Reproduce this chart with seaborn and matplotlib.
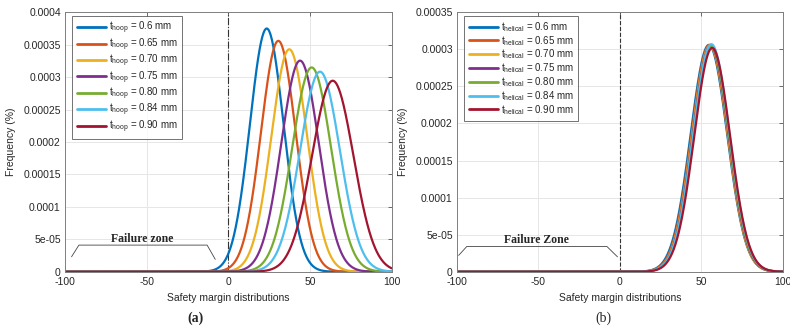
#!/usr/bin/env python3
"""
Safety margin distributions for hoop and helical layer thickness.
"""

import numpy as np
import pandas as pd
import matplotlib
matplotlib.use("Agg")
import matplotlib.pyplot as plt
from matplotlib.ticker import FuncFormatter
import seaborn as sns

# thickness values shown in the legends
thickness = ['0.6', '0.65', '0.70', '0.75', '0.80', '0.84', '0.90']

# (a) hoop layer: peak position, peak height and spread
hoop_mean = [23.5, 30.6, 37.3, 43.9, 51.0, 56.1, 63.9]
hoop_peak = [0.000375, 0.000356, 0.000343, 0.0003255, 0.000315, 0.0003085, 0.0002945]
hoop_std = [10.3, 10.6, 11.0, 11.5, 11.9, 12.2, 12.7]

# (b) helical layer
helical_mean = [54.6, 55.0, 55.3, 55.6, 55.9, 56.1, 56.6]
helical_peak = [0.000306, 0.000306, 0.000305, 0.000305, 0.000305, 0.000307, 0.000302]
helical_std = [11.2, 11.1, 11.0, 11.0, 11.0, 11.1, 11.0]

colors = ['#0072BD', '#D95319', '#EDB120', '#7E2F8E', '#77AC30', '#4DBEEE', '#A2142F']


def build_frame(name, means, peaks, stds):
    x = np.linspace(-100, 100, 801)
    rows = []
    for t, m, p, s in zip(thickness, means, peaks, stds):
        label = r'$\mathregular{t_{%s}}$ = %s mm' % (name, t)
        y = p * np.exp(-0.5 * ((x - m) / s) ** 2)
        rows.append(pd.DataFrame({'x': x, 'y': y, 'series': label}))
    return pd.concat(rows, ignore_index=True)


def style_axis(ax, ymax, zone_text, zone_pts, text_xy, vline_style, tag, tag_x, tag_weight):
    ax.set_xlim(-100, 100)
    ax.set_ylim(0, ymax)
    ax.set_xticks([-100, -50, 0, 50, 100])
    ax.set_yticks(np.arange(0, ymax + 1e-9, 0.00005))
    ax.yaxis.set_major_formatter(FuncFormatter(lambda v, p: '%g' % v if v != 0 else '0'))
    ax.grid(True, color='#e6e6e6', linewidth=0.7)
    ax.set_axisbelow(True)
    for sp in ax.spines.values():
        sp.set_visible(True)
        sp.set_color('#7f7f7f')
        sp.set_linewidth(0.7)
    ax.tick_params(direction='in', length=3, width=0.6, color='#555555',
                   top=True, right=True, labelsize=7.5, pad=3)
    ax.tick_params(axis='x', pad=4)
    ax.set_xlabel('Safety margin distributions', fontsize=7.5, labelpad=4)
    ax.set_ylabel('Frequency (%)', fontsize=7.5, labelpad=5)

    ax.axvline(0, color='#333333', linestyle=vline_style, linewidth=0.8, zorder=1)

    zx, zy = zone_pts
    ax.plot(zx, zy, color='#444444', linewidth=0.6)
    ax.text(text_xy[0], text_xy[1], zone_text, ha='center', va='center',
            fontsize=8.5, fontweight='bold', family='Liberation Serif')

    ax.text(tag_x, -0.178, tag, transform=ax.transAxes, ha='center', va='center',
            fontsize=10, fontweight=tag_weight, family='Liberation Serif')

    leg = ax.legend(loc='upper left', bbox_to_anchor=(0.022, 0.987), fontsize=7,
                    frameon=True, fancybox=False, handlelength=3.0,
                    handletextpad=0.3, labelspacing=0.0, borderpad=0.45,
                    borderaxespad=0)
    leg.get_frame().set_edgecolor('#333333')
    leg.get_frame().set_linewidth(0.6)
    for line in leg.get_lines():
        line.set_linewidth(2)


def main():
    sns.set_theme(style='white')
    plt.rcParams['font.family'] = ['Liberation Sans', 'DejaVu Sans']
    plt.rcParams['axes.unicode_minus'] = False
    plt.rcParams['mathtext.fontset'] = 'custom'
    plt.rcParams['mathtext.rm'] = 'Liberation Sans'

    hoop = build_frame('hoop', hoop_mean, hoop_peak, hoop_std)
    helical = build_frame('helical', helical_mean, helical_peak, helical_std)

    fig = plt.figure(figsize=(7.9, 3.29), dpi=100)
    ax1 = fig.add_axes([0.0823, 0.1742, 0.4135, 0.7884])
    ax2 = fig.add_axes([0.5785, 0.1742, 0.4125, 0.7884])

    sns.lineplot(data=hoop, x='x', y='y', hue='series', palette=colors,
                 linewidth=1.6, ax=ax1, estimator=None, sort=False)
    sns.lineplot(data=helical, x='x', y='y', hue='series', palette=colors,
                 linewidth=1.6, ax=ax2, estimator=None, sort=False)

    style_axis(ax1, 0.0004, 'Failure zone',
               ([-96, -91.5, -13, -8], [2.3e-5, 4.1e-5, 4.1e-5, 1.9e-5]),
               (-53, 5.0e-5), '-.', '(a)', 0.398, 'bold')
    style_axis(ax2, 0.00035, 'Failure Zone',
               ([-99, -94, -8, -1.5], [2.2e-5, 3.4e-5, 3.4e-5, 2.0e-5]),
               (-51, 4.3e-5), '--', '(b)', 0.448, 'normal')

    fig.savefig('out.png', dpi=100)
    plt.close(fig)


if __name__ == "__main__":
    main()
